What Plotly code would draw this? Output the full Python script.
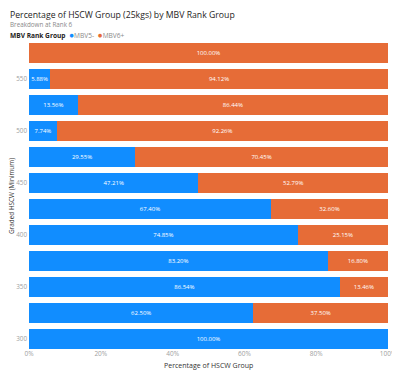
import plotly.graph_objects as go

categories = [300, 325, 350, 375, 400, 425, 450, 475, 500, 525, 550, 575]
mbv5 = [100.00, 62.50, 86.54, 83.20, 74.85, 67.40, 47.21, 29.55, 7.74, 13.56, 5.88, 0.0]
mbv6 = [0.0, 37.50, 13.46, 16.80, 25.15, 32.60, 52.79, 70.45, 92.26, 86.44, 94.12, 100.00]
x_ticks = [0, 20, 40, 60, 80, 100]
y_ticks = [300, 350, 400, 450, 500, 550]

BLUE = "#118DFF"
ORANGE = "#E66C37"
FONT = "Open Sans"
OFF = 8  # default page body margin
W, H = 400 - OFF, 371 - OFF
ML, MR, MT, MB = 21, 12, 32, 19
PW, PH = W - ML - MR, H - MT - MB

def fx(page_x):
    return (page_x - OFF - ML) / PW

def fy(page_y):
    return (H - MB - (page_y - OFF)) / PH

def labels(vals):
    return [f"{v:.2f}%" if v > 0 else "" for v in vals]

fig = go.Figure()
for name, vals, col in [("MBV5-", mbv5, BLUE), ("MBV6+", mbv6, ORANGE)]:
    fig.add_trace(go.Bar(
        y=categories, x=vals, orientation="h", name=name,
        marker=dict(color=col, line=dict(width=0)),
        text=labels(vals), textposition="inside", insidetextanchor="middle",
        textangle=0, constraintext="none",
        textfont=dict(color="white", size=6, family=FONT),
        showlegend=False, hoverinfo="skip",
    ))

legend_text = (
    '<b>MBV Rank Group</b>  '
    f'<span style="color:{BLUE};font-size:8.5px">●</span><span style="color:#8A8A8A">MBV5-</span>  '
    f'<span style="color:{ORANGE};font-size:8.5px">●</span><span style="color:#8A8A8A">MBV6+</span>'
)

fig.update_layout(
    width=W, height=H,
    barmode="stack", bargap=0.23,
    plot_bgcolor="white", paper_bgcolor="white",
    margin=dict(l=ML, r=MR, t=MT, b=MB, autoexpand=False),
    font=dict(family=FONT, color="#605E5C"),
    showlegend=False,
    xaxis=dict(
        range=[0, 100], tickvals=x_ticks, ticktext=[f"{v}%" for v in x_ticks],
        tickfont=dict(size=6.5, color="#A0A0A0"), showgrid=False, zeroline=False,
        ticks="", showline=False, automargin=False, ticklabelstandoff=-4,
        fixedrange=True,
    ),
    yaxis=dict(
        range=[287.5, 587.5], tickvals=y_ticks, ticktext=[str(v) for v in y_ticks],
        tickfont=dict(size=6.3, color="#A0A0A0"), showgrid=False, zeroline=False,
        ticks="", showline=False, ticklabelstandoff=1, automargin=False,
    ),
    annotations=[
        dict(text="Percentage of HSCW Group (25kgs) by MBV Rank Group", x=fx(8), y=fy(7),
             xref="paper", yref="paper", xanchor="left", yanchor="top", showarrow=False,
             font=dict(size=8.7, color="#252423", family=FONT)),
        dict(text="Breakdown at Rank 6", x=fx(8), y=fy(24.5),
             xref="paper", yref="paper", xanchor="left", yanchor="middle", showarrow=False,
             font=dict(size=6.3, color="#8A8A8A", family=FONT)),
        dict(text=legend_text, x=fx(8), y=fy(34.5),
             xref="paper", yref="paper", xanchor="left", yanchor="middle", showarrow=False,
             font=dict(size=6.6, color="#252423", family=FONT)),
        dict(text="Percentage of HSCW Group", x=fx(208.5), y=fy(365),
             xref="paper", yref="paper", xanchor="center", yanchor="middle", showarrow=False,
             font=dict(size=7, color="#333333", family=FONT)),
        dict(text="Graded HSCW (Minimum)", x=fx(11), y=fy(196), textangle=-90,
             xref="paper", yref="paper", xanchor="center", yanchor="middle", showarrow=False,
             font=dict(size=6.4, color="#333333", family=FONT)),
    ],
)

fig.write_html("out.html")
